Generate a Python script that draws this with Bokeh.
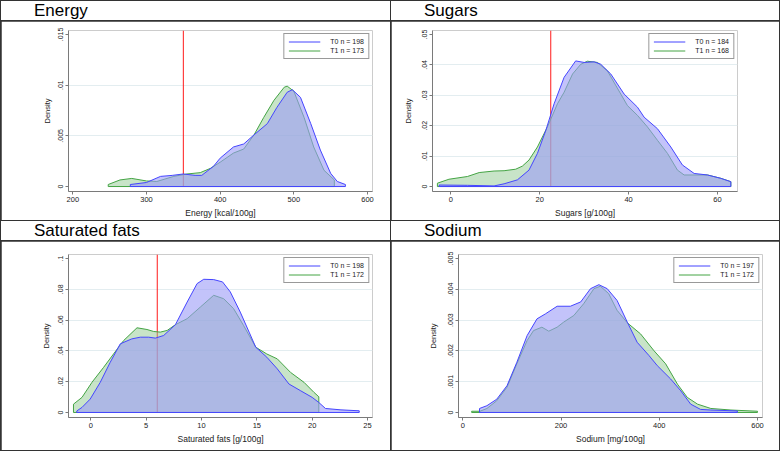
from bokeh.plotting import figure
from bokeh.models import Div, FixedTicker, Legend, LegendItem, Range1d, BoxAnnotation
from bokeh.layouts import column, row
from bokeh.embed import file_html
from bokeh.resources import INLINE

# ---------------- data ----------------
titles = ["Energy", "Sugars", "Saturated fats", "Sodium"]
x_titles = ["Energy [kcal/100g]", "Sugars [g/100g]", "Saturated fats [g/100g]", "Sodium [mg/100g]"]
n_t0 = [198, 184, 198, 197]
n_t1 = [173, 168, 172, 172]
ref_lines = [350, 22.5, 6, None]

energy_xticks = [200, 300, 400, 500, 600]
sugars_xticks = [0, 20, 40, 60]
satfat_xticks = [0, 5, 10, 15, 20, 25]
sodium_xticks = [0, 200, 400, 600]

energy_yticks = [0, 0.005, 0.01, 0.015]
energy_ylabels = ["0", ".005", ".01", ".015"]
sugars_yticks = [0, 0.01, 0.02, 0.03, 0.04, 0.05]
sugars_ylabels = ["0", ".01", ".02", ".03", ".04", ".05"]
satfat_yticks = [0, 0.02, 0.04, 0.06, 0.08, 0.1]
satfat_ylabels = ["0", ".02", ".04", ".06", ".08", ".1"]
sodium_yticks = [0, 0.001, 0.002, 0.003, 0.004, 0.005]
sodium_ylabels = ["0", ".001", ".002", ".003", ".004", ".005"]

energy_t0_x = [278, 300, 319, 335, 350, 366, 375, 391, 400, 418, 432, 446, 464, 477, 491, 498, 509, 523, 536, 550, 559, 570]
energy_t0_y = [0.0002, 0.0004, 0.001, 0.0011, 0.00124, 0.0011, 0.0011, 0.002, 0.0028, 0.0039, 0.0042, 0.0051,
               0.0062, 0.0078, 0.0093, 0.00955, 0.0088, 0.0062, 0.0036, 0.0013, 0.0005, 0.0002]
energy_t1_x = [248, 264, 280, 300, 314, 337, 355, 373, 387, 400, 418, 432, 446, 459, 473, 487, 491, 500, 514, 527, 541, 555]
energy_t1_y = [0.0002, 0.00065, 0.0008, 0.00055, 0.0005, 0.001, 0.00124, 0.00137, 0.0018, 0.0024, 0.0033, 0.0037,
               0.0051, 0.0068, 0.0085, 0.0098, 0.0099, 0.0094, 0.0068, 0.0039, 0.0016, 0.00065]

sugars_t0_x = [-2.6, 3.75, 9.75, 12, 15, 17.6, 19.5, 21.4, 23.25, 25.5, 28.1, 30, 32.25, 33.75, 36, 39, 42,
               43.5, 46.5, 49.5, 52.1, 54.75, 57.75, 60.75, 63]
sugars_t0_y = [0.0005, 0.0004, 0.0002, 0.0009, 0.0022, 0.0054, 0.0109, 0.0185, 0.0272, 0.0359, 0.0413, 0.0408,
               0.041, 0.0402, 0.037, 0.0304, 0.0261, 0.0228, 0.019, 0.013, 0.0071, 0.0043, 0.0038, 0.0027, 0.0016]
sugars_t1_x = [-3, -0.4, 3.75, 6.4, 9.75, 12, 14.6, 16.1, 17.6, 19.5, 21.75, 24, 25.5, 27.4, 29.25, 30.75, 33,
               35.25, 38.25, 39.75, 42, 44.25, 46.5, 48.75, 51, 52.5, 57.75, 60.75, 63]
sugars_t1_y = [0.0011, 0.0024, 0.0033, 0.0046, 0.0051, 0.0052, 0.0057, 0.0067, 0.0087, 0.013, 0.0196, 0.0272,
               0.031, 0.037, 0.0402, 0.0412, 0.0408, 0.038, 0.0304, 0.0266, 0.0234, 0.0196, 0.0152, 0.0109,
               0.0054, 0.0038, 0.0038, 0.0027, 0.0016]

satfat_t0_x = [-1.27, -0.8, -0.06, 0.85, 1.75, 2.66, 3.7, 4.47, 5.22, 5.83, 6.58, 7.64, 8.7, 9.6, 10.2, 11.1,
               11.9, 12.6, 13.5, 14.3, 14.9, 15.9, 16.85, 17.9, 18.96, 20.0, 20.6, 21.2, 22.6, 24.25]
satfat_t0_y = [0.001, 0.0033, 0.0087, 0.0196, 0.0326, 0.0446, 0.0478, 0.0489, 0.0489, 0.0483, 0.05, 0.057,
               0.0717, 0.0837, 0.0865, 0.0863, 0.0848, 0.0783, 0.0652, 0.0522, 0.0424, 0.0359, 0.0283, 0.0185,
               0.0141, 0.0098, 0.0065, 0.0026, 0.0017, 0.0011]
satfat_t1_x = [-1.57, -0.8, 0.1, 1.15, 2.05, 2.96, 4.17, 5.07, 5.68, 6.28, 6.9, 7.64, 8.7, 9.9, 11.1, 12.0,
               12.9, 13.8, 14.9, 15.9, 16.85, 18.05, 19.26, 20.17, 20.6]
satfat_t1_y = [0.0054, 0.0098, 0.0196, 0.0293, 0.038, 0.0467, 0.055, 0.0539, 0.0526, 0.0522, 0.0533, 0.057,
               0.0609, 0.0685, 0.0761, 0.0739, 0.0674, 0.0565, 0.0424, 0.038, 0.0348, 0.026, 0.0196, 0.013, 0.0102]

sodium_t0_x = [34, 49, 69, 90, 110, 131, 151, 168, 192, 219, 240, 260, 277, 294, 314, 335, 355, 379, 396, 423,
               444, 464, 484, 505, 559]
sodium_t0_y = [0.00013, 0.00022, 0.00043, 0.00087, 0.00163, 0.0025, 0.00304, 0.0032, 0.00345, 0.00345, 0.00359,
               0.00402, 0.00415, 0.00402, 0.00364, 0.00293, 0.00228, 0.00185, 0.00152, 0.00109, 0.0007,
               0.00027, 0.0001, 0.00008, 0.00005]
sodium_t1_x = [18, 35, 49, 69, 90, 110, 131, 144, 161, 175, 192, 205, 226, 246, 267, 280, 297, 314, 335, 362,
               389, 413, 437, 457, 478, 505, 546, 600]
sodium_t1_y = [0.00004, 0.00004, 0.00013, 0.00038, 0.00082, 0.00158, 0.00234, 0.00266, 0.00277, 0.00264,
               0.00277, 0.00293, 0.00315, 0.00353, 0.00402, 0.0041, 0.00386, 0.00332, 0.00291, 0.00255,
               0.00201, 0.00158, 0.00092, 0.00049, 0.00027, 0.00013, 0.00008, 0.00004]

# ---------------- layout / style config ----------------
FONT = "Liberation Sans"
BLUE_LINE = "#4545ff"
GREEN_LINE = "#44a444"
BLUE_FILL = (155, 155, 247)
GREEN_FILL = (145, 201, 145)
AXIS_COLOR = "#7a7a7a"
TEXT_COLOR = "#222222"
GRID_COLOR = "#e3edf0"
REGION_COLOR = "#e8eff3"
BORDER = "#333333"

panels = [
    dict(xt=energy_xticks, yt=energy_yticks, yl=energy_ylabels,
         t0=(energy_t0_x, energy_t0_y), t1=(energy_t1_x, energy_t1_y),
         xr=(194.1, 606.8), W=389, H=199, ml=67, mr=18, mt=9, mb=28, ylstand=4,
         region=(32, 372, 1, 196)),
    dict(xt=sugars_xticks, yt=sugars_yticks, yl=sugars_ylabels,
         t0=(sugars_t0_x, sugars_t0_y), t1=(sugars_t1_x, sugars_t1_y),
         xr=(-4.1, 64.5), W=388, H=199, ml=41, mr=42, mt=9, mb=28, ylstand=7,
         region=(6, 354, 2, 196)),
    dict(xt=satfat_xticks, yt=satfat_yticks, yl=satfat_ylabels,
         t0=(satfat_t0_x, satfat_t0_y), t1=(satfat_t1_x, satfat_t1_y),
         xr=(-2.02, 25.45), W=389, H=209, ml=67, mr=18, mt=13, mb=33, ylstand=5,
         region=(32, 381, 6, 201)),
    dict(xt=sodium_xticks, yt=sodium_yticks, yl=sodium_ylabels,
         t0=(sodium_t0_x, sodium_t0_y), t1=(sodium_t1_x, sodium_t1_y),
         xr=(-8.8, 610.2), W=388, H=209, ml=67, mr=17, mt=13, mb=33, ylstand=8,
         region=(32, 379, 6, 201)),
]


def outline(xs, ys):
    px = [xs[0]] + list(xs) + [xs[-1], xs[0]]
    py = [0] + list(ys) + [0, 0]
    return px, py


def make_panel(i, cfg):
    top = cfg["yt"][-1]
    ymin, ymax = -0.0326 * top, 1.026 * top
    p = figure(width=cfg["W"], height=cfg["H"], output_backend="svg", toolbar_location=None,
               x_range=Range1d(*cfg["xr"]), y_range=Range1d(ymin, ymax),
               min_border_left=cfg["ml"], min_border_right=cfg["mr"],
               min_border_top=cfg["mt"], min_border_bottom=cfg["mb"], margin=0)
    p.background_fill_color = "white"
    p.border_fill_color = "white"
    p.outline_line_color = None

    l, r, t, b = cfg["region"]
    p.add_layout(BoxAnnotation(left=l, right=r, top=t, bottom=b,
                               left_units="canvas", right_units="canvas",
                               top_units="canvas", bottom_units="canvas",
                               fill_alpha=0, line_color=REGION_COLOR, line_width=1,
                               level="underlay", editable=False))

    xa, ya = p.xaxis[0], p.yaxis[0]
    xa.ticker = FixedTicker(ticks=cfg["xt"])
    xa.major_label_overrides = {t: str(t) for t in cfg["xt"]}
    ya.ticker = FixedTicker(ticks=cfg["yt"])
    ya.major_label_overrides = dict(zip(cfg["yt"], cfg["yl"]))
    ya.major_label_orientation = "vertical"
    xa.axis_label = x_titles[i]
    ya.axis_label = "Density"
    for ax in (xa, ya):
        ax.axis_line_color = AXIS_COLOR
        ax.major_tick_line_color = AXIS_COLOR
        ax.major_tick_out = 3
        ax.major_tick_in = 0
        ax.minor_tick_line_color = None
        ax.major_label_text_font = FONT
        ax.major_label_text_color = TEXT_COLOR
        ax.axis_label_text_font = FONT
        ax.axis_label_text_font_style = "normal"
        ax.axis_label_text_color = TEXT_COLOR
        ax.major_label_standoff = 2
    xa.major_label_text_font_size = "7.5px"
    ya.major_label_text_font_size = "7px"
    xa.axis_label_text_font_size = "8.5px"
    ya.axis_label_text_font_size = "7.5px"
    xa.axis_label_standoff = 3
    ya.axis_label_standoff = cfg["ylstand"]

    p.xgrid.visible = False
    p.ygrid.ticker = FixedTicker(ticks=cfg["yt"][1:-1])
    p.ygrid.grid_line_color = GRID_COLOR
    p.ygrid.grid_line_width = 1

    if ref_lines[i] is not None:
        p.segment(x0=[ref_lines[i]], y0=[0], x1=[ref_lines[i]], y1=[ymax],
                  line_color="#ff1a1a", line_width=1)

    gx, gy = outline(*cfg["t1"])
    p.patch(gx, gy, fill_color=GREEN_FILL, fill_alpha=0.5, line_color=None)
    r1 = p.line(gx, gy, line_color=GREEN_LINE, line_width=1)
    bx, by = outline(*cfg["t0"])
    p.patch(bx, by, fill_color=BLUE_FILL, fill_alpha=0.6, line_color=None)
    r0 = p.line(bx, by, line_color=BLUE_LINE, line_width=1)

    leg = Legend(items=[LegendItem(label=f"T0 n = {n_t0[i]}", renderers=[r0]),
                        LegendItem(label=f"T1 n = {n_t1[i]}", renderers=[r1])],
                 location="top_right")
    leg.border_line_color = "#333333"
    leg.border_line_width = 1
    leg.background_fill_color = "white"
    leg.background_fill_alpha = 1
    leg.label_text_font = FONT
    leg.label_text_font_size = "7px"
    leg.label_text_color = TEXT_COLOR
    leg.glyph_width = 32
    leg.glyph_height = 7
    leg.label_height = 7
    leg.label_standoff = 10
    leg.spacing = 2
    leg.padding = 4
    leg.margin = 3
    p.add_layout(leg)

    title = Div(text=titles[i], width=cfg["W"], height=19, margin=0,
                styles={"background-color": "white", "font-family": FONT + ", Arial, sans-serif",
                        "font-size": "17px", "line-height": "19px", "color": "black",
                        "padding-left": "33px", "box-sizing": "border-box", "overflow": "hidden",
                        "white-space": "nowrap"})
    return column(title, p, spacing=1, margin=0)


cells = [make_panel(i, cfg) for i, cfg in enumerate(panels)]
layout = column(row(cells[0], cells[1], spacing=1, margin=0),
                row(cells[2], cells[3], spacing=1, margin=0),
                spacing=1, margin=0,
                styles={"background-color": BORDER, "padding": "1px"})

open("out.html", "w").write(file_html(layout, INLINE))
